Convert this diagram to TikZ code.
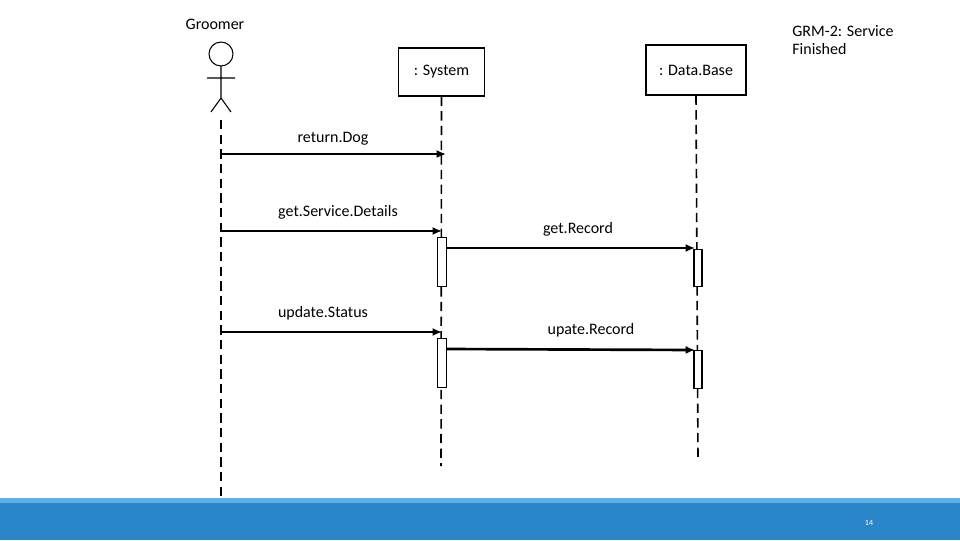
\documentclass[tikz,border=0pt]{standalone}
\usepackage{fontspec}
\setmainfont{Carlito}
\usetikzlibrary{arrows.meta}
\definecolor{barblue}{HTML}{2A86C8}
\definecolor{barlight}{HTML}{5FB0E6}
\begin{document}
\begin{tikzpicture}[x=0.75pt,y=-0.75pt,
  lbl/.style={font=\fontsize{12}{14}\selectfont},
  box/.style={draw,thick,fill=white,inner sep=0},
  life/.style={draw,line width=1.2pt,dash pattern=on 7pt off 4pt},
  msg/.style={draw,line width=2pt,-{Latex[length=7pt,width=6pt]}},
  act/.style={draw,thick,fill=white}]
\useasboundingbox (0,0) rectangle (960,540);
\fill[barblue] (0,498) rectangle (960,540);
\fill[barlight] (0,498) rectangle (960,503);
\node[white,font=\fontsize{6}{7}\selectfont] (pg) at (869,523) {14};
\node[lbl] (groomer) at (215,24) {Groomer};
\node[lbl,align=left] (title) at (843,40) {GRM-2: Service\\Finished};
% actor
\draw[thick] (221,54) circle[radius=9pt];
\draw[thick] (221,66) -- (221,98) (207,78) -- (235,78) (211,112) -- (221,98) -- (231,112);
\coordinate (g0) at (221,120); \coordinate (g1) at (221,500);
\path[life] (g0) -- (g1);
% system
\node[box,minimum width=64pt,minimum height=36pt] (sys) at (441.5,72) {};
\node[lbl] (syst) at (441.5,72) {: System};
\coordinate (s1) at (441,466);
\path[life] (sys.south) -- (s1);
% database
\node[box,minimum width=75pt,minimum height=37.5pt] (db) at (696,70) {};
\node[lbl] (dbt) at (696,70) {: Data.Base};
\coordinate (d1) at (698,460);
\path[life] (db.south) -- (d1);
% activations
\node[act,minimum width=7pt,minimum height=37pt,inner sep=0] (a1) at (442,262) {};
\node[act,minimum width=6pt,minimum height=28pt,inner sep=0] (b1) at (698,268) {};
\node[act,minimum width=7pt,minimum height=37pt,inner sep=0] (a2) at (442,363) {};
\node[act,minimum width=6pt,minimum height=28pt,inner sep=0] (b2) at (698,369.5) {};
% messages
\coordinate (m1a) at (221,154); \coordinate (m1b) at (446,154);
\path[msg] (m1a) -- (m1b);
\node[lbl] (l1) at (333,139) {return.Dog};
\coordinate (m2a) at (221,231); \coordinate (m2b) at (442,231);
\path[msg] (m2a) -- (m2b);
\node[lbl] (l2) at (338,212) {get.Service.Details};
\coordinate (m3a) at (447,248); \coordinate (m3b) at (695,248);
\path[msg] (m3a) -- (m3b);
\node[lbl] (l3) at (578,229) {get.Record};
\coordinate (m4a) at (221,332); \coordinate (m4b) at (442,332);
\path[msg] (m4a) -- (m4b);
\node[lbl] (l4) at (323,313) {update.Status};
\coordinate (m5a) at (447,349); \coordinate (m5b) at (695,350);
\path[msg] (m5a) -- (m5b);
\node[lbl] (l5) at (591,330) {upate.Record};
\end{tikzpicture}
\end{document}
